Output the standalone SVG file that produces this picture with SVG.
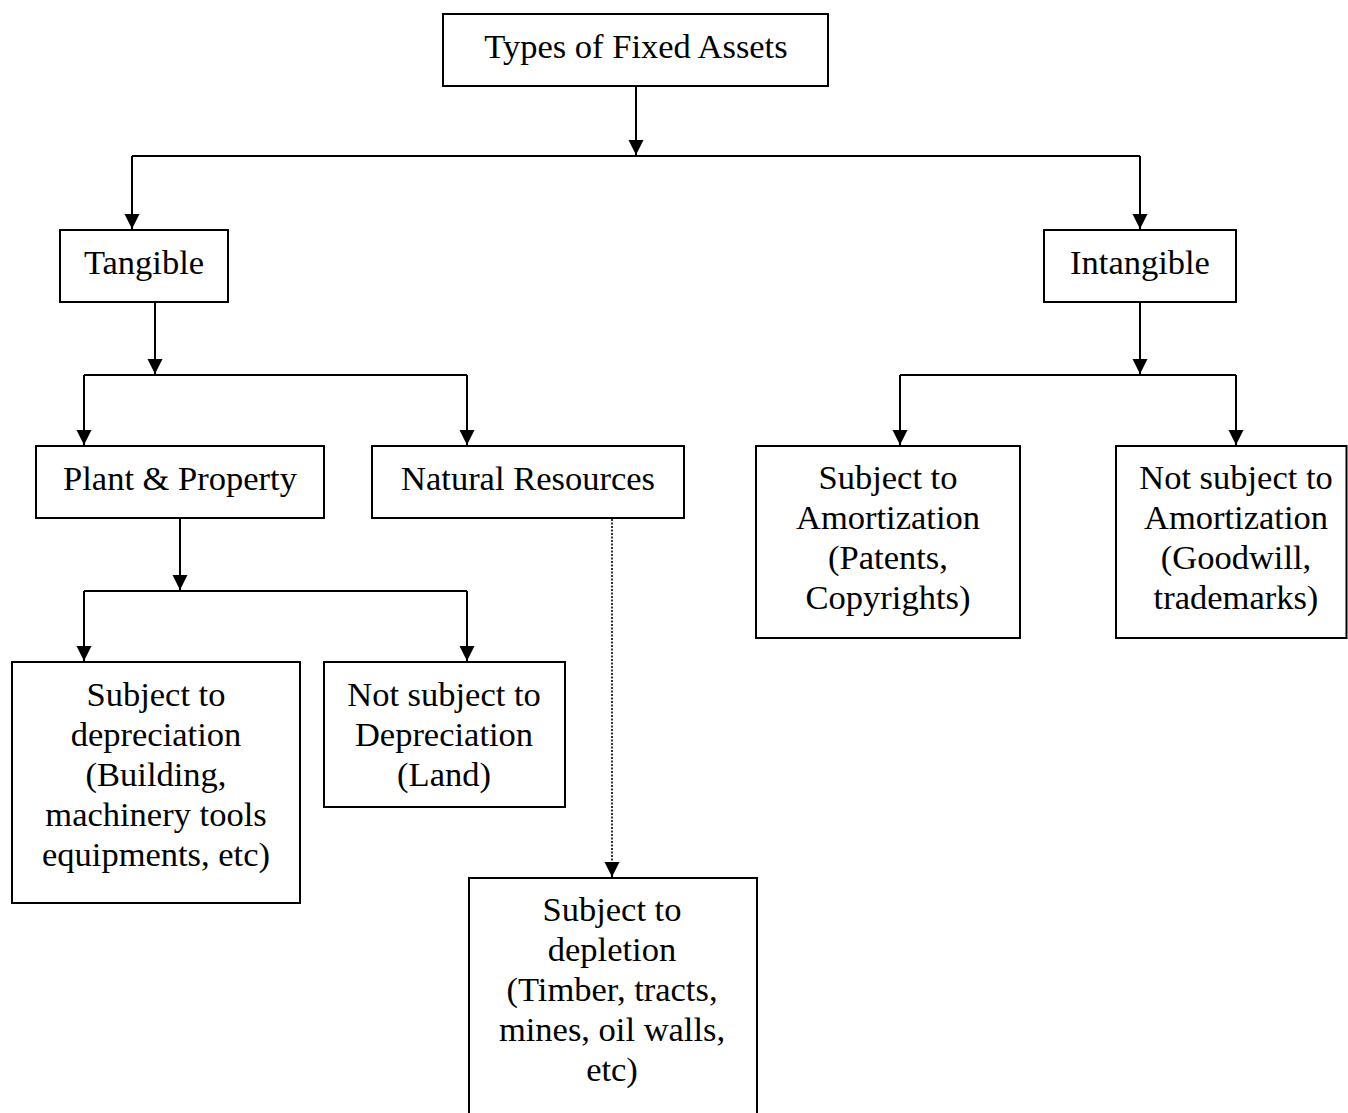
<svg xmlns="http://www.w3.org/2000/svg" width="1348" height="1113" viewBox="0 0 1348 1113">
<style>
.box{fill:#fff;stroke:#000;stroke-width:2}
.t{font-family:"Liberation Serif","Times New Roman",serif;font-size:34.5px;fill:#000;text-anchor:middle}
.c{fill:none;stroke:#000;stroke-width:2}
.d{fill:none;stroke:#000;stroke-width:1.6;stroke-dasharray:2 1.5}
</style>
<defs>
<marker id="arr" markerUnits="userSpaceOnUse" markerWidth="16" markerHeight="16" refX="15" refY="7.5" orient="auto">
<path d="M0,0 L15,7.5 L0,15 z" fill="#000"/>
</marker>
</defs>
<rect width="1348" height="1113" fill="#fff"/>
<g id="connectors">
<path class="c" d="M636,86 V155" marker-end="url(#arr)"/>
<path class="c" d="M132,156 H1140"/>
<path class="c" d="M132,156 V229" marker-end="url(#arr)"/>
<path class="c" d="M1140,156 V229" marker-end="url(#arr)"/>
<path class="c" d="M155,302 V374" marker-end="url(#arr)"/>
<path class="c" d="M84,375 H467"/>
<path class="c" d="M84,375 V445" marker-end="url(#arr)"/>
<path class="c" d="M467,375 V445" marker-end="url(#arr)"/>
<path class="c" d="M1140,302 V374" marker-end="url(#arr)"/>
<path class="c" d="M900,375 H1236"/>
<path class="c" d="M900,375 V445" marker-end="url(#arr)"/>
<path class="c" d="M1236,375 V445" marker-end="url(#arr)"/>
<path class="c" d="M180,518 V590" marker-end="url(#arr)"/>
<path class="c" d="M84,591 H467"/>
<path class="c" d="M84,591 V661" marker-end="url(#arr)"/>
<path class="c" d="M467,591 V661" marker-end="url(#arr)"/>
<path class="d" d="M612,519 V863"/>
<path class="c" d="M612,862 V877" marker-end="url(#arr)" stroke-width="0.1"/>
</g>
<g id="root">
<rect class="box" x="443" y="14" width="385" height="72"/>
<text class="t" x="636" y="58">Types of Fixed Assets</text>
</g>
<g id="tangible">
<rect class="box" x="60" y="230" width="168" height="72"/>
<text class="t" x="144" y="274">Tangible</text>
</g>
<g id="intangible">
<rect class="box" x="1044" y="230" width="192" height="72"/>
<text class="t" x="1140" y="274">Intangible</text>
</g>
<g id="plant">
<rect class="box" x="36" y="446" width="288" height="72"/>
<text class="t" x="180" y="490">Plant &amp; Property</text>
</g>
<g id="natural">
<rect class="box" x="372" y="446" width="312" height="72"/>
<text class="t" x="528" y="490">Natural Resources</text>
</g>
<g id="subject-amort">
<rect class="box" x="756" y="446" width="264" height="192"/>
<text class="t" x="888" y="489">Subject to</text>
<text class="t" x="888" y="529">Amortization</text>
<text class="t" x="888" y="569">(Patents,</text>
<text class="t" x="888" y="609">Copyrights)</text>
</g>
<g id="not-subject-amort">
<rect class="box" x="1116" y="446" width="230.5" height="192"/>
<text class="t" x="1236" y="489">Not subject to</text>
<text class="t" x="1236" y="529">Amortization</text>
<text class="t" x="1236" y="569">(Goodwill,</text>
<text class="t" x="1236" y="609">trademarks)</text>
</g>
<g id="subject-dep">
<rect class="box" x="12" y="662" width="288" height="241"/>
<text class="t" x="156" y="706">Subject to</text>
<text class="t" x="156" y="746">depreciation</text>
<text class="t" x="156" y="786">(Building,</text>
<text class="t" x="156" y="826">machinery tools</text>
<text class="t" x="156" y="866">equipments, etc)</text>
</g>
<g id="not-subject-dep">
<rect class="box" x="324" y="662" width="241" height="145"/>
<text class="t" x="444" y="706">Not subject to</text>
<text class="t" x="444" y="746">Depreciation</text>
<text class="t" x="444" y="786">(Land)</text>
</g>
<g id="depletion">
<rect class="box" x="469" y="878" width="288" height="250"/>
<text class="t" x="612" y="921">Subject to</text>
<text class="t" x="612" y="961">depletion</text>
<text class="t" x="612" y="1001">(Timber, tracts,</text>
<text class="t" x="612" y="1041">mines, oil walls,</text>
<text class="t" x="612" y="1081">etc)</text>
</g>
</svg>
